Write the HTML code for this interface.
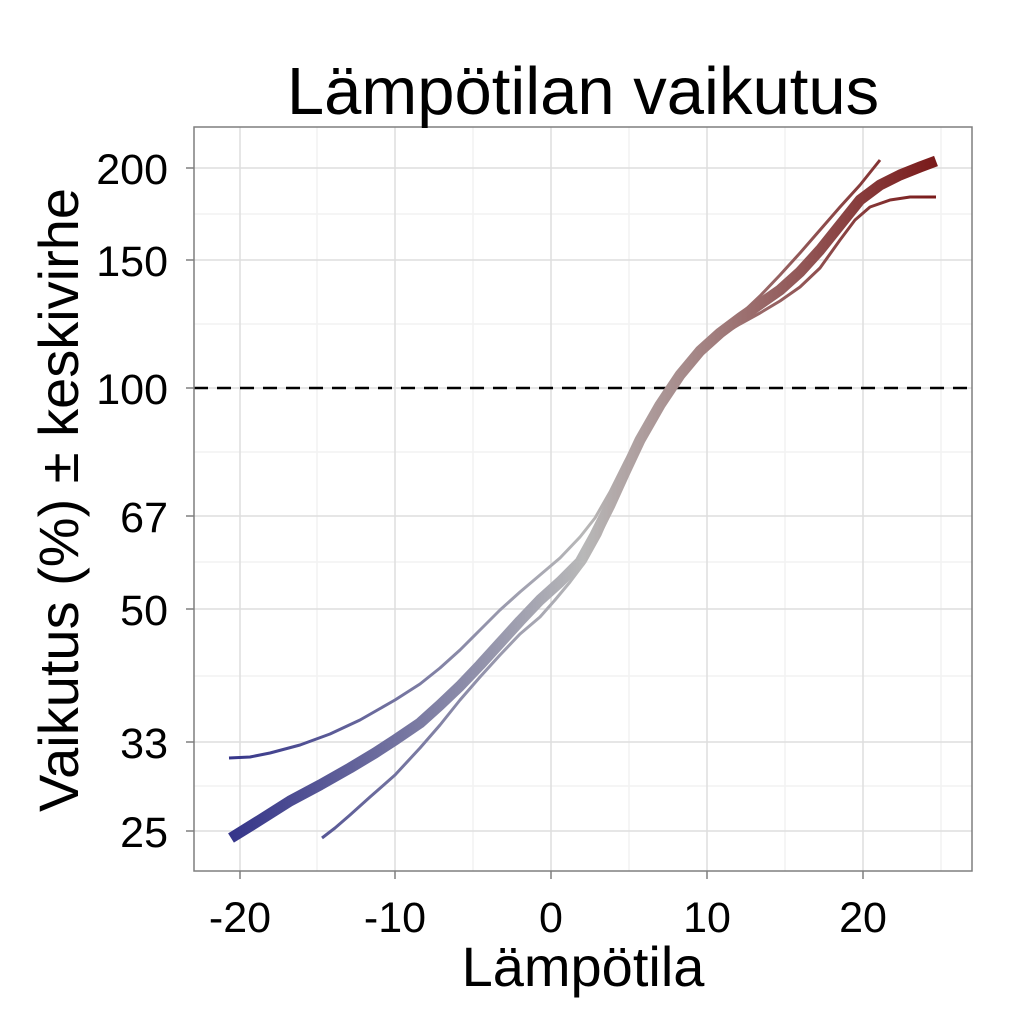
<!DOCTYPE html>
<html><head><meta charset="utf-8"><style>body{margin:0;background:#fff}</style></head><body>
<svg width="1024" height="1024" xmlns="http://www.w3.org/2000/svg" font-family="Liberation Sans, Arial, sans-serif">
<defs>
<linearGradient id="g" gradientUnits="userSpaceOnUse" x1="230" y1="0" x2="936" y2="0">
<stop offset="0" stop-color="#35358a"/>
<stop offset="0.5" stop-color="#b8b8b8"/>
<stop offset="1" stop-color="#7a1a1a"/>
</linearGradient>
</defs>
<rect x="194" y="127" width="778" height="744" fill="#fff"/>
<g stroke="#f2f2f2" stroke-width="1.5">
<line x1="317" y1="127" x2="317" y2="871"/><line x1="473" y1="127" x2="473" y2="871"/>
<line x1="629" y1="127" x2="629" y2="871"/><line x1="785" y1="127" x2="785" y2="871"/><line x1="941" y1="127" x2="941" y2="871"/>
<line x1="194" y1="214" x2="972" y2="214"/><line x1="194" y1="324" x2="972" y2="324"/>
<line x1="194" y1="452" x2="972" y2="452"/><line x1="194" y1="562" x2="972" y2="562"/>
<line x1="194" y1="676" x2="972" y2="676"/><line x1="194" y1="786" x2="972" y2="786"/>
</g>
<g stroke="#dedede" stroke-width="1.5">
<line x1="240" y1="127" x2="240" y2="871"/><line x1="395" y1="127" x2="395" y2="871"/>
<line x1="551" y1="127" x2="551" y2="871"/><line x1="707" y1="127" x2="707" y2="871"/><line x1="863" y1="127" x2="863" y2="871"/>
<line x1="194" y1="168" x2="972" y2="168"/><line x1="194" y1="260" x2="972" y2="260"/>
<line x1="194" y1="388" x2="972" y2="388"/><line x1="194" y1="516" x2="972" y2="516"/>
<line x1="194" y1="609" x2="972" y2="609"/><line x1="194" y1="742" x2="972" y2="742"/>
<line x1="194" y1="831" x2="972" y2="831"/>
</g>
<line x1="194" y1="388" x2="972" y2="388" stroke="#000" stroke-width="2.5" stroke-dasharray="14,9"/>
<g fill="none" stroke="url(#g)" stroke-linecap="butt" stroke-linejoin="round">
<polyline stroke-width="3" points="229,758 250,757 270,753 300,745 330,734 360,720 395,700 420,684 440,668 460,650 480,630 500,610 520,592 540,575 560,558 580,537 595,518 610,492 625,462 640,435 660,405 680,376 700,352 720,333 740,315 760,296 780,275 800,253 820,230 840,207 860,185 880,160"/>
<polyline stroke-width="3" points="322,838 335,828 350,815 370,797 395,775 420,748 440,725 460,700 480,677 500,655 520,634 540,617 555,600 570,582 585,562 600,535 615,500 630,465 645,432 660,405 680,377 700,353 720,336 740,324 760,313 780,301 800,287 820,268 840,240 855,220 870,207 890,200 910,197 936,197"/>
<polyline stroke-width="11" points="231,838 260,820 290,801 320,785 350,768 375,753 395,740 420,723 440,705 460,686 480,665 500,643 520,621 540,600 560,582 580,562 595,535 610,505 625,472 640,440 660,405 680,375 700,351 720,333 740,318 760,304 780,290 800,272 820,250 840,225 860,200 880,185 900,175 920,167 936,161"/>
</g>
<rect x="194" y="127" width="778" height="744" fill="none" stroke="#7f7f7f" stroke-width="1.5"/>
<g stroke="#7f7f7f" stroke-width="1.5">
<line x1="240" y1="871" x2="240" y2="879"/><line x1="395" y1="871" x2="395" y2="879"/><line x1="551" y1="871" x2="551" y2="879"/><line x1="707" y1="871" x2="707" y2="879"/><line x1="863" y1="871" x2="863" y2="879"/>
<line x1="186" y1="168" x2="194" y2="168"/><line x1="186" y1="260" x2="194" y2="260"/><line x1="186" y1="388" x2="194" y2="388"/><line x1="186" y1="516" x2="194" y2="516"/><line x1="186" y1="609" x2="194" y2="609"/><line x1="186" y1="742" x2="194" y2="742"/><line x1="186" y1="831" x2="194" y2="831"/>
</g>
<g font-size="43" fill="#000" text-anchor="end">
<text x="168" y="184">200</text><text x="168" y="276">150</text><text x="168" y="404">100</text><text x="168" y="532">67</text><text x="168" y="625">50</text><text x="168" y="758">33</text><text x="168" y="847">25</text>
</g>
<g font-size="43" fill="#000" text-anchor="middle">
<text x="240" y="932">-20</text><text x="395" y="932">-10</text><text x="551" y="932">0</text><text x="707" y="932">10</text><text x="863" y="932">20</text>
</g>
<text x="583" y="986" font-size="56" text-anchor="middle">Lämpötila</text>
<text transform="translate(78,500) rotate(-90)" font-size="56" text-anchor="middle">Vaikutus (%) ± keskivirhe</text>
<text x="583" y="114" font-size="67" text-anchor="middle">Lämpötilan vaikutus</text>
</svg>
</body></html>
